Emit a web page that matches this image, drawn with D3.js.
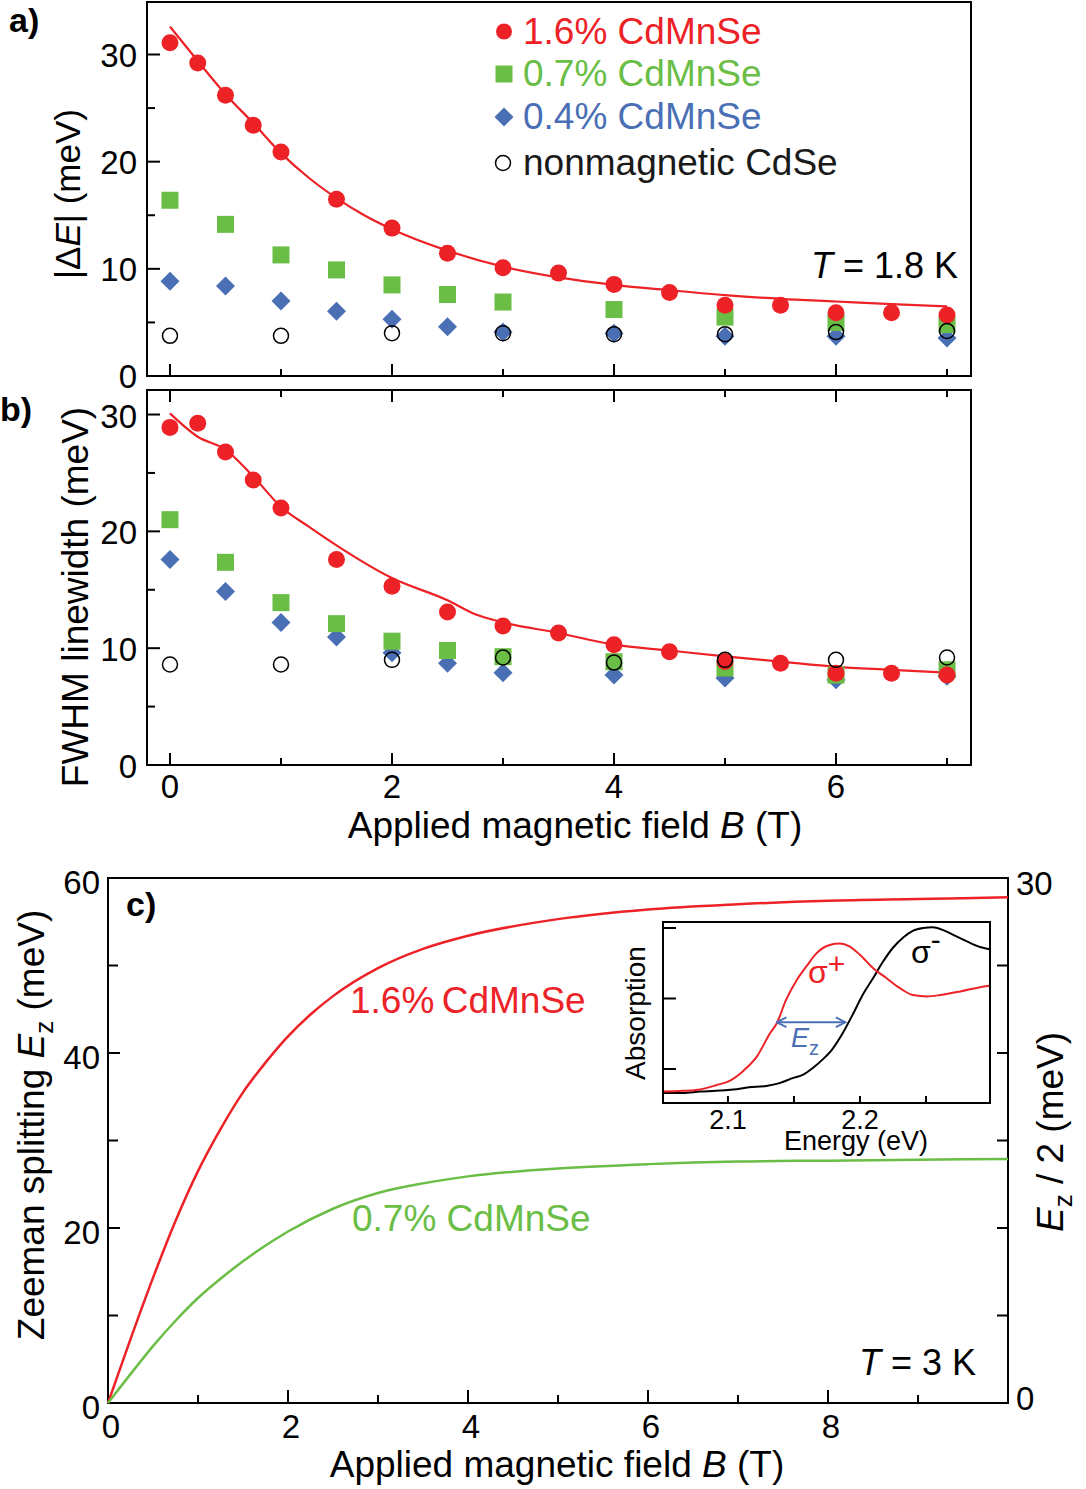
<!DOCTYPE html>
<html><head><meta charset="utf-8">
<script src="https://cdn.jsdelivr.net/npm/d3@7"></script>
<style>body{margin:0;background:#fff}text{font-family:"Liberation Sans",Arial,Helvetica,sans-serif}</style>
</head><body>
<svg id="chart" width="1086" height="1489"></svg>
<script>
// ---------- data ----------
const bRed   = [0,0.25,0.5,0.75,1,1.5,2,2.5,3,3.5,4,4.5,5,5.5,6,6.5,7];
const bOther = [0,0.5,1,1.5,2,2.5,3,4,5,6,7];
const bOpen  = [0,1,2,3,4,5,6,7];
// panel a: |dE|
const dE_red   = [31.1,29.2,26.2,23.4,20.9,16.5,13.8,11.45,10.1,9.6,8.55,7.8,6.6,6.6,5.9,5.9,5.7];
const dE_green = [16.4,14.15,11.3,9.9,8.5,7.6,6.9,6.2,5.5,5.0,4.8];
const dE_blue  = [8.85,8.4,7.0,6.05,5.3,4.6,4.1,4.0,3.7,3.7,3.55];
const dE_open  = [3.75,3.75,4.0,4.0,3.9,3.9,4.1,4.2];
const fitA_B = [0,0.25,0.5,0.75,1,1.25,1.5,1.75,2,2.5,3,3.5,4,4.5,5,5.5,6,6.5,7];
const fitA   = [32.6,29.4,26.3,23.6,20.8,18.5,16.6,15.0,13.7,11.7,10.2,9.2,8.5,8.0,7.55,7.2,6.95,6.7,6.5];
// panel b: FWHM
const fw_red   = [28.9,29.25,26.8,24.4,22.0,17.6,15.3,13.1,11.9,11.3,10.3,9.7,8.85,8.7,7.85,7.85,7.7];
const fw_green = [21.0,17.35,13.9,12.1,10.6,9.8,9.27,8.84,8.3,7.7,8.15];
const fw_blue  = [17.6,14.85,12.2,10.95,9.6,8.7,7.9,7.7,7.45,7.3,7.6];
const fw_open  = [8.6,8.6,9.0,9.2,8.77,9.0,9.0,9.2];
const fitB_B = [0,0.25,0.5,0.75,1,1.25,1.5,2,2.5,2.75,3,3.5,4,4.5,5,5.5,6,6.5,7];
const fitB   = [30.1,28.1,27.0,24.7,22.1,20.4,18.8,16.0,14.1,12.9,12.2,11.3,10.3,9.8,9.3,8.85,8.4,8.15,7.9];
// panel c: Zeeman splitting
const zB_red = [0,0.25,0.5,0.75,1,1.25,1.5,1.75,2,2.25,2.5,3,3.5,4,5,6,7,8,9,10];
const zRed   = [0,7.3,14.3,20.8,26.5,31.3,35.5,38.9,41.9,44.4,46.5,49.7,51.9,53.4,55.3,56.4,57.0,57.4,57.6,57.8];
const zB_green = [0,0.25,0.5,0.75,1,1.25,1.5,2,2.5,3,3.5,4,5,6,7,8,9,10];
const zGreen = [0,3.3,6.5,9.4,12.0,14.2,16.2,19.6,22.2,24.0,25.1,25.9,26.8,27.3,27.6,27.7,27.8,27.9];
// inset: absorption spectra
const sigPlusE = [2.051,2.066,2.079,2.091,2.102,2.112,2.122,2.132,2.137,2.144,2.152,2.160,2.167,2.177,2.185,2.192,2.200,2.210,2.220,2.230,2.240,2.251,2.261,2.276,2.291,2.298];
const sigPlusA = [0.68,0.69,0.71,0.77,0.84,0.98,1.18,1.51,1.65,1.98,2.26,2.47,2.64,2.76,2.78,2.74,2.62,2.43,2.29,2.15,2.05,2.03,2.05,2.10,2.16,2.18];
const sigMinusE = [2.051,2.066,2.079,2.091,2.104,2.116,2.129,2.139,2.149,2.157,2.164,2.172,2.179,2.187,2.195,2.202,2.210,2.217,2.225,2.233,2.240,2.248,2.255,2.263,2.271,2.281,2.291,2.298];
const sigMinusA = [0.66,0.66,0.68,0.69,0.71,0.74,0.76,0.80,0.87,0.92,1.01,1.14,1.28,1.51,1.79,2.05,2.29,2.51,2.72,2.87,2.96,3.00,3.01,2.97,2.90,2.81,2.73,2.70];
const ezArrow = [2.137, 2.189];
const ezArrowA = 1.663;
// tick labels
const tickA_y = [0,10,20,30];
const tickB_y = [0,10,20,30];
const tickB_x = [0,2,4,6];
const tickC_x = [0,2,4,6,8];
const tickC_y = [0,20,40,60];
const tickC_y2 = [0,30];
const tickI_x = [2.1,2.2];
const legendLabels = ["1.6% CdMnSe","0.7% CdMnSe","0.4% CdMnSe","nonmagnetic CdSe"];

// ---------- style ----------
const RED="#ec2227", GREEN="#6abd45", BLUE="#4a6fb5";
const svg = d3.select("#chart");
const FS_TICK=33, FS_LAB=37;

function zip(xs, ys){ return xs.map((x,i)=>[x,ys[i]]); }

function ticksX(scale, vals, y0, len, dir){
  svg.append("g").selectAll("line").data(vals).join("line")
    .attr("x1",d=>scale(d)).attr("x2",d=>scale(d))
    .attr("y1",y0).attr("y2",y0+dir*len)
    .attr("stroke","#000").attr("stroke-width",2);
}
function ticksY(scale, vals, x0, len, dir){
  svg.append("g").selectAll("line").data(vals).join("line")
    .attr("y1",d=>scale(d)).attr("y2",d=>scale(d))
    .attr("x1",x0).attr("x2",x0+dir*len)
    .attr("stroke","#000").attr("stroke-width",2);
}
function frame(x0,y0,x1,y1){
  svg.append("rect").attr("x",x0).attr("y",y0).attr("width",x1-x0).attr("height",y1-y0)
    .attr("fill","none").attr("stroke","#000").attr("stroke-width",2);
}
function diamond(cx,cy,r){ return `M${cx},${cy-r}L${cx+r},${cy}L${cx},${cy+r}L${cx-r},${cy}Z`; }

function drawScatter(xS,yS,red,green,blue,open,fitX,fitY){
  svg.append("path").datum(zip(fitX,fitY))
    .attr("d",d3.line().x(d=>xS(d[0])).y(d=>yS(d[1])).curve(d3.curveMonotoneX))
    .attr("fill","none").attr("stroke",RED).attr("stroke-width",2.2);
  svg.append("g").selectAll("path").data(zip(bOther,blue)).join("path")
    .attr("d",d=>diamond(xS(d[0]),yS(d[1]),9.5)).attr("fill",BLUE);
  svg.append("g").selectAll("rect").data(zip(bOther,green)).join("rect")
    .attr("x",d=>xS(d[0])-8.5).attr("y",d=>yS(d[1])-8.5).attr("width",17).attr("height",17).attr("fill",GREEN);
  svg.append("g").selectAll("circle").data(zip(bRed,red)).join("circle")
    .attr("cx",d=>xS(d[0])).attr("cy",d=>yS(d[1])).attr("r",8.5).attr("fill",RED);
  svg.append("g").selectAll("circle").data(zip(bOpen,open)).join("circle")
    .attr("cx",d=>xS(d[0])).attr("cy",d=>yS(d[1])).attr("r",7.5).attr("fill","none")
    .attr("stroke","#000").attr("stroke-width",1.5);
}

// ---------- panel a ----------
const xA = d3.scaleLinear([-0.207,7.216],[147,971]);
const yA = d3.scaleLinear([0,34.9],[376,2]);
frame(147,2,971,376);
ticksY(yA,[0,10,20,30],147,13,1);
ticksY(yA,[5,15,25],147,8,1);
ticksX(xA,[0,2,4,6],376,12,-1);
ticksX(xA,[1,3,5,7],376,7,-1);
svg.append("g").selectAll("text").data(tickA_y).join("text")
  .attr("x",137).attr("y",d=>yA(d)+12).attr("text-anchor","end").attr("font-size",FS_TICK).text(d=>d);
drawScatter(xA,yA,dE_red,dE_green,dE_blue,dE_open,fitA_B,fitA);

// legend
const legY=[31.5,74,117,163];
svg.append("circle").attr("cx",504).attr("cy",legY[0]).attr("r",8).attr("fill",RED);
svg.append("rect").attr("x",495.5).attr("y",legY[1]-8.5).attr("width",17).attr("height",17).attr("fill",GREEN);
svg.append("path").attr("d",diamond(504,legY[2],9.5)).attr("fill",BLUE);
svg.append("circle").attr("cx",503).attr("cy",legY[3]).attr("r",7.5).attr("fill","none").attr("stroke","#000").attr("stroke-width",1.5);
const legCol=[RED,GREEN,BLUE,"#1a1a1a"];
svg.append("g").selectAll("text").data(legendLabels).join("text")
  .attr("x",523).attr("y",(d,i)=>legY[i]+12).attr("font-size",37).attr("fill",(d,i)=>legCol[i]).text(d=>d);

// T label a
const tA = svg.append("text").attr("x",958).attr("y",278).attr("text-anchor","end").attr("font-size",36);
tA.append("tspan").attr("font-style","italic").text("T");
tA.append("tspan").text(" = 1.8 K");

// y label a
const ylA = svg.append("text").attr("transform","translate(80,194) rotate(-90)").attr("text-anchor","middle").attr("font-size",35);
ylA.append("tspan").text("|Δ");
ylA.append("tspan").attr("font-style","italic").text("E");
ylA.append("tspan").text("| (meV)");

svg.append("text").attr("x",9).attr("y",32).attr("font-size",34).attr("font-weight","bold").text("a)");

// ---------- panel b ----------
const xB = d3.scaleLinear([-0.207,7.216],[147,971]);
const yB = d3.scaleLinear([0,32.1],[765,390]);
frame(147,390,971,765);
ticksY(yB,[0,10,20,30],147,13,1);
ticksY(yB,[5,15,25],147,8,1);
ticksX(xB,[0,2,4,6],765,12,-1);
ticksX(xB,[1,3,5,7],765,7,-1);
ticksX(xB,[0,2,4,6],390,12,1);
ticksX(xB,[1,3,5,7],390,7,1);
svg.append("g").selectAll("text").data(tickB_y).join("text")
  .attr("x",137).attr("y",d=>yB(d)+13).attr("text-anchor","end").attr("font-size",FS_TICK).text(d=>d);
svg.append("g").selectAll("text").data(tickB_x).join("text")
  .attr("x",d=>xB(d)).attr("y",798).attr("text-anchor","middle").attr("font-size",FS_TICK).text(d=>d);
drawScatter(xB,yB,fw_red,fw_green,fw_blue,fw_open,fitB_B,fitB);

const xlB = svg.append("text").attr("x",575).attr("y",838).attr("text-anchor","middle").attr("font-size",FS_LAB);
xlB.append("tspan").text("Applied magnetic field ");
xlB.append("tspan").attr("font-style","italic").text("B");
xlB.append("tspan").text(" (T)");
svg.append("text").attr("transform","translate(88,597) rotate(-90)").attr("text-anchor","middle").attr("font-size",FS_LAB).text("FWHM linewidth (meV)");
svg.append("text").attr("x",0).attr("y",421).attr("font-size",34).attr("font-weight","bold").text("b)");

// ---------- panel c ----------
const xC = d3.scaleLinear([0,10],[108,1008]);
const yC = d3.scaleLinear([0,60],[1403,878]);
const yC2 = d3.scaleLinear([0,30],[1403,878]);
frame(108,878,1008,1403);
ticksX(xC,[0,2,4,6,8],1403,13,-1);
ticksX(xC,[1,3,5,7,9],1403,8,-1);
ticksY(yC,[0,20,40,60],108,12,1);
ticksY(yC,[10,30,50],108,10,1);
ticksY(yC2,[0,5,10,15,20,25,30],1008,11,-1);
svg.append("g").selectAll("text").data(tickC_y).join("text")
  .attr("x",100).attr("y",d=>yC(d)+16).attr("text-anchor","end").attr("font-size",FS_TICK).text(d=>d);
svg.append("g").selectAll("text").data(tickC_y2).join("text")
  .attr("x",1016).attr("y",d=>yC2(d)+(d===0?7:17)).attr("font-size",FS_TICK).text(d=>d);
svg.append("g").selectAll("text").data(tickC_x).join("text")
  .attr("x",d=>xC(d)+3).attr("y",1438).attr("text-anchor","middle").attr("font-size",FS_TICK).text(d=>d);

const lineC = d3.line().x(d=>xC(d[0])).y(d=>yC(d[1])).curve(d3.curveMonotoneX);
svg.append("path").datum(zip(zB_red,zRed)).attr("d",lineC).attr("fill","none").attr("stroke",RED).attr("stroke-width",2.5);
svg.append("path").datum(zip(zB_green,zGreen)).attr("d",lineC).attr("fill","none").attr("stroke",GREEN).attr("stroke-width",2.5);

svg.append("text").attr("x",350).attr("y",1013).attr("font-size",37).attr("fill",RED).text("1.6%\u2009CdMnSe");
svg.append("text").attr("x",352).attr("y",1231).attr("font-size",37).attr("fill",GREEN).text("0.7% CdMnSe");

const tC = svg.append("text").attr("x",976).attr("y",1375).attr("text-anchor","end").attr("font-size",36);
tC.append("tspan").attr("font-style","italic").text("T");
tC.append("tspan").text(" = 3 K");
svg.append("text").attr("x",126).attr("y",916).attr("font-size",34).attr("font-weight","bold").text("c)");

const xlC = svg.append("text").attr("x",557).attr("y",1477).attr("text-anchor","middle").attr("font-size",FS_LAB);
xlC.append("tspan").text("Applied magnetic field ");
xlC.append("tspan").attr("font-style","italic").text("B");
xlC.append("tspan").text(" (T)");

const ylC = svg.append("text").attr("transform","translate(44,1125) rotate(-90)").attr("text-anchor","middle").attr("font-size",FS_LAB);
ylC.append("tspan").text("Zeeman splitting ");
ylC.append("tspan").attr("font-style","italic").text("E");
ylC.append("tspan").attr("font-size",26).attr("dy",9).text("z");
ylC.append("tspan").attr("dy",-9).text(" (meV)");

const ylC2 = svg.append("text").attr("transform","translate(1063,1132) rotate(-90)").attr("text-anchor","middle").attr("font-size",FS_LAB);
ylC2.append("tspan").attr("font-style","italic").text("E");
ylC2.append("tspan").attr("font-size",26).attr("dy",9).text("z");
ylC2.append("tspan").attr("dy",-9).text(" / 2  (meV)");

// ---------- inset ----------
const xI = d3.scaleLinear([2.0508,2.2985],[663,990]);
const yI = d3.scaleLinear([0.518,3.085],[1103,922]);
svg.append("rect").attr("x",663).attr("y",922).attr("width",327).attr("height",181).attr("fill","#fff");
const lineI = d3.line().x(d=>xI(d[0])).y(d=>yI(d[1])).curve(d3.curveMonotoneX);
svg.append("path").datum(zip(sigMinusE,sigMinusA)).attr("d",lineI).attr("fill","none").attr("stroke","#000").attr("stroke-width",2);
svg.append("path").datum(zip(sigPlusE,sigPlusA)).attr("d",lineI).attr("fill","none").attr("stroke",RED).attr("stroke-width",2);
frame(663,922,990,1103);
ticksX(xI,[2.1,2.15,2.2,2.25],1103,7,-1);
ticksY(yI,[1,2,3],663,13,1);
svg.append("g").selectAll("text").data(tickI_x).join("text")
  .attr("x",d=>xI(d)).attr("y",1129).attr("text-anchor","middle").attr("font-size",27).text(d=>d.toFixed(1));
svg.append("text").attr("x",856).attr("y",1150).attr("text-anchor","middle").attr("font-size",27).text("Energy (eV)");
svg.append("text").attr("transform","translate(645,1013) rotate(-90)").attr("text-anchor","middle").attr("font-size",28).text("Absorption");

// arrow
const defs = svg.append("defs");
defs.append("marker").attr("id","ah").attr("viewBox","0 0 10 10").attr("refX",9).attr("refY",5)
  .attr("markerWidth",12).attr("markerHeight",12).attr("markerUnits","userSpaceOnUse").attr("orient","auto-start-reverse")
  .append("path").attr("d","M1,1L9,5L1,9").attr("fill","none").attr("stroke",BLUE).attr("stroke-width",1.6);
svg.append("line").attr("x1",xI(ezArrow[0])).attr("x2",xI(ezArrow[1])).attr("y1",yI(ezArrowA)).attr("y2",yI(ezArrowA))
  .attr("stroke",BLUE).attr("stroke-width",1.8).attr("marker-start","url(#ah)").attr("marker-end","url(#ah)");
const ezT = svg.append("text").attr("x",791).attr("y",1047).attr("font-size",27).attr("fill",BLUE);
ezT.append("tspan").attr("font-style","italic").text("E");
ezT.append("tspan").attr("font-size",20).attr("dy",8).text("z");

const sp = svg.append("text").attr("x",808).attr("y",983).attr("font-size",32).attr("fill",RED);
sp.append("tspan").text("σ");
sp.append("tspan").attr("dy",-9).attr("font-size",30).text("+");
const sm = svg.append("text").attr("x",911).attr("y",963).attr("font-size",32).attr("fill","#000");
sm.append("tspan").text("σ");
sm.append("tspan").attr("dy",-13).attr("font-size",30).text("-");
</script>
</body></html>
